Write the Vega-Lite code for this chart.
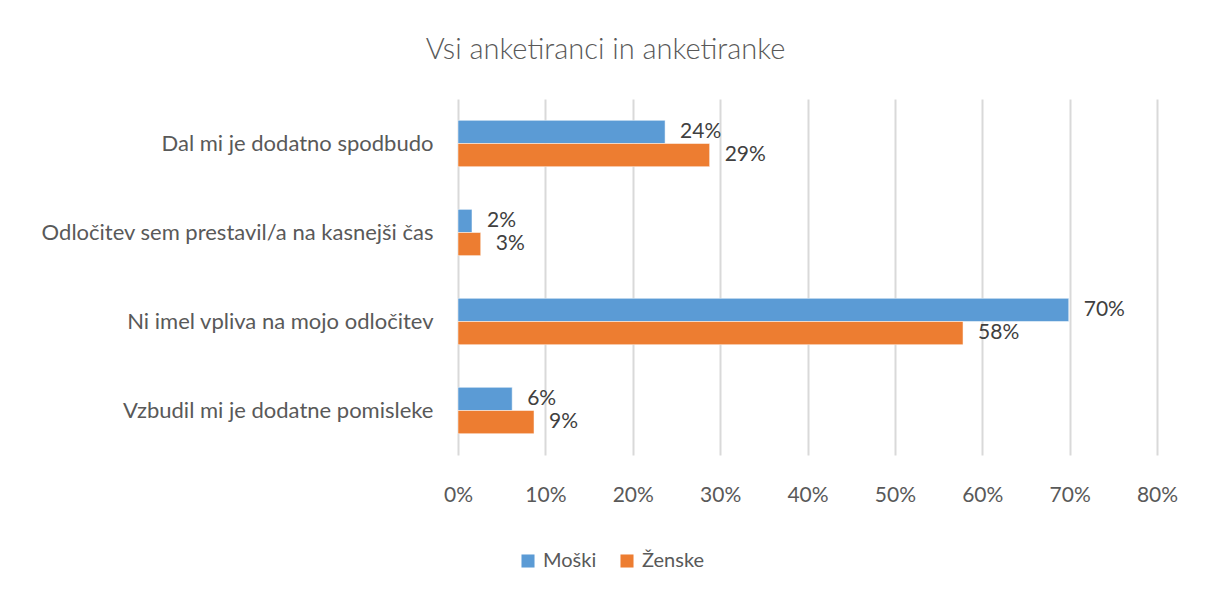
{
  "$schema": "https://vega.github.io/schema/vega-lite/v6.json",
  "width": 699,
  "height": 356,
  "autosize": {"type": "none"},
  "padding": {"left": 458, "top": 99, "right": 49, "bottom": 140},
  "background": "white",
  "title": {
    "text": "Vsi anketiranci in anketiranke",
    "font": "Lato",
    "fontSize": 29,
    "fontWeight": 300,
    "color": "#595959",
    "anchor": "middle",
    "dx": -202,
    "offset": 34
  },
  "config": {
    "view": {"stroke": null},
    "font": "Lato"
  },
  "data": {
    "values": [
      {"odgovor": "Dal mi je dodatno spodbudo", "spol": "Moški", "delez": 0.237},
      {"odgovor": "Dal mi je dodatno spodbudo", "spol": "Ženske", "delez": 0.288},
      {"odgovor": "Odločitev sem prestavil/a na kasnejši čas", "spol": "Moški", "delez": 0.016},
      {"odgovor": "Odločitev sem prestavil/a na kasnejši čas", "spol": "Ženske", "delez": 0.026},
      {"odgovor": "Ni imel vpliva na mojo odločitev", "spol": "Moški", "delez": 0.699},
      {"odgovor": "Ni imel vpliva na mojo odločitev", "spol": "Ženske", "delez": 0.578},
      {"odgovor": "Vzbudil mi je dodatne pomisleke", "spol": "Moški", "delez": 0.062},
      {"odgovor": "Vzbudil mi je dodatne pomisleke", "spol": "Ženske", "delez": 0.087}
    ]
  },
  "encoding": {
    "y": {
      "field": "odgovor",
      "type": "nominal",
      "sort": null,
      "title": null,
      "scale": {"paddingInner": 0.48, "paddingOuter": 0.24},
      "axis": {
        "domain": false,
        "ticks": false,
        "labelFontSize": 22,
        "labelColor": "#595959",
        "labelPadding": 25,
        "labelLimit": 500
      }
    },
    "yOffset": {"field": "spol", "type": "nominal", "sort": ["Moški", "Ženske"]},
    "x": {
      "field": "delez",
      "type": "quantitative",
      "title": null,
      "scale": {"domain": [0, 0.8], "nice": false},
      "axis": {
        "format": ".0%",
        "values": [0, 0.1, 0.2, 0.3, 0.4, 0.5, 0.6, 0.7, 0.8],
        "domain": false,
        "ticks": false,
        "grid": true,
        "gridColor": "#D9D9D9",
        "gridWidth": 2,
        "labelFlush": false,
        "labelFontSize": 21,
        "labelColor": "#595959",
        "labelPadding": 29
      }
    }
  },
  "layer": [
    {
      "mark": {"type": "bar", "stroke": "white", "strokeWidth": 0.5},
      "encoding": {
        "color": {
          "field": "spol",
          "type": "nominal",
          "sort": ["Moški", "Ženske"],
          "scale": {"domain": ["Moški", "Ženske"], "range": ["#5B9BD5", "#ED7D31"]},
          "legend": {
            "title": null,
            "orient": "none",
            "direction": "horizontal",
            "legendX": 60,
            "legendY": 452,
            "symbolType": "square",
            "symbolSize": 170,
            "symbolStrokeWidth": 0,
            "labelFontSize": 20,
            "labelColor": "#595959",
            "labelOffset": 5,
            "columnPadding": 20
          }
        }
      }
    },
    {
      "mark": {"type": "text", "align": "left", "dx": 15, "fontSize": 21, "color": "#404040"},
      "encoding": {
        "text": {"field": "delez", "type": "quantitative", "format": ".0%"}
      }
    }
  ]
}
